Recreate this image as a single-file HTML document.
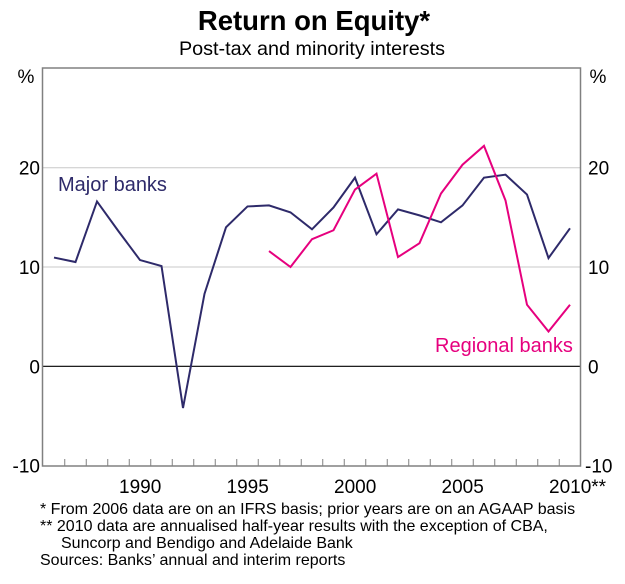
<!DOCTYPE html>
<html><head><meta charset="utf-8"><style>
body{margin:0;background:#fff;width:625px;height:579px;overflow:hidden;font-family:"Liberation Sans",Arial,sans-serif}
svg text{font-family:"Liberation Sans",Arial,sans-serif}
</style></head><body>
<svg id="chart" width="625" height="579">
<text x="314" y="30" text-anchor="middle" font-size="27.5" font-weight="bold">Return on Equity*</text>
<text x="312" y="55" text-anchor="middle" font-size="19.8">Post-tax and minority interests</text>
<text x="26" y="83" text-anchor="middle" font-size="19">%</text>
<text x="598" y="83" text-anchor="middle" font-size="19">%</text>
<g id="grid"></g>
<g id="series"></g>
<rect x="42.5" y="68" width="538" height="398" fill="none" stroke="#808080" stroke-width="1.5"/>
<text x="58" y="191" font-size="20" fill="#2e2a6a">Major banks</text>
<text x="435" y="352" font-size="20" fill="#e6007e">Regional banks</text>
<text x="40" y="514" font-size="16">*   From 2006 data are on an IFRS basis; prior years are on an AGAAP basis</text>
<text x="40" y="531" font-size="16">** 2010 data are annualised half-year results with the exception of CBA,</text>
<text x="61" y="548" font-size="16">Suncorp and Bendigo and Adelaide Bank</text>
<text x="40" y="565" font-size="16">Sources: Banks’ annual and interim reports</text>
</svg>
<script>
const majorYears=[1986,1987,1988,1989,1990,1991,1992,1993,1994,1995,1996,1997,1998,1999,2000,2001,2002,2003,2004,2005,2006,2007,2008,2009,2010];
const majorValues=[10.95,10.5,16.6,13.6,10.7,10.1,-4.2,7.3,14.0,16.1,16.2,15.5,13.8,16.0,19.0,13.3,15.8,15.2,14.5,16.2,19.0,19.3,17.3,10.9,13.9];
const regionalYears=[1996,1997,1998,1999,2000,2001,2002,2003,2004,2005,2006,2007,2008,2009,2010];
const regionalValues=[11.6,10.0,12.8,13.7,17.8,19.4,11.0,12.4,17.4,20.3,22.2,16.7,6.2,3.5,6.2];
const yTicks=[-10,0,10,20];
const xLabels=[1990,1995,2000,2005,2010];
const NS='http://www.w3.org/2000/svg';
function xs(yr){return 54+(yr-1986)*21.5;}
function ys(v){return 366.3-v*9.93;}
const grid=document.getElementById('grid'),ser=document.getElementById('series');
function mk(tag,attrs,parent){const e=document.createElementNS(NS,tag);for(const k in attrs)e.setAttribute(k,attrs[k]);parent.appendChild(e);return e;}
yTicks.forEach(v=>{
  const y=ys(v);
  if(v>-10){const l=mk('line',{x1:42.5,x2:580.5,y1:y,y2:y,stroke:v===0?'#000':'#c8c8c8','stroke-width':v===0?1.2:1},grid);
  
  }
  const t1=mk('text',{x:40,y:y+7,'text-anchor':'end','font-size':19},grid);t1.textContent=v;
  
  
  const t2=mk('text',{x:v<0?585:588,y:y+7,'text-anchor':'start','font-size':19},grid);t2.textContent=v;
  
  
});
for(let yr=1986;yr<=2010;yr++){
  const x=xs(yr)+10.75;
  if(yr<2010){const l=mk('line',{x1:x,x2:x,y1:466,y2:459,stroke:'#808080','stroke-width':1},grid);
  
  }
}
xLabels.forEach(yr=>{
  const t=mk('text',{x:xs(yr)-21,y:493,'font-size':19},grid);t.textContent=yr+(yr===2010?'**':'');
  
  
});
function line(years,vals,color,name){
  const p=mk('polyline',{points:years.map((y,i)=>xs(y)+','+ys(vals[i])).join(' '),fill:'none',stroke:color,'stroke-width':2,'stroke-linejoin':'miter'},ser);
  
  
}
line(majorYears,majorValues,'#2e2a6a','major-banks-line');
line(regionalYears,regionalValues,'#e6007e','regional-banks-line');
</script>
</body></html>
